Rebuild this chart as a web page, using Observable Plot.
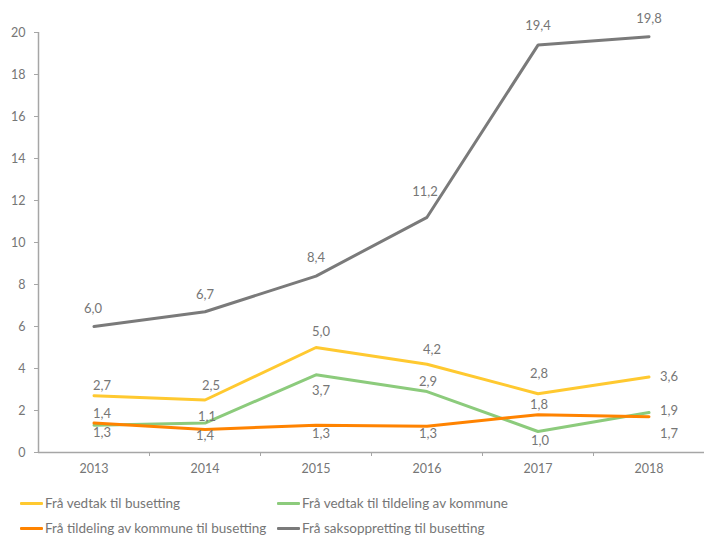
<!DOCTYPE html>
<html>
<head>
<meta charset="utf-8">
<script src="https://cdn.jsdelivr.net/npm/d3@7"></script>
<script src="https://cdn.jsdelivr.net/npm/@observablehq/plot@0.6"></script>
<style>
  html, body { margin: 0; padding: 0; background: white; }
  #wrap { position: relative; width: 704px; height: 536px; font-family: Lato, sans-serif; color: #767676; }
  .leg { position: absolute; display: flex; align-items: center; font-size: 13.5px; white-space: nowrap; }
  .sw { width: 23px; height: 3px; margin-right: 2px; border-radius: 1px; }
</style>
</head>
<body>
<div id="wrap"><div id="chart"></div><div id="legend"></div></div>
<script>
const years = [2013, 2014, 2015, 2016, 2017, 2018];
const seriesNames = [
  "Frå vedtak til busetting",
  "Frå vedtak til tildeling av kommune",
  "Frå tildeling av kommune til busetting",
  "Frå saksoppretting til busetting"
];
const vedtakBusetting = [2.7, 2.5, 5.0, 4.2, 2.8, 3.6];
const vedtakTildeling = [1.3, 1.4, 3.7, 2.9, 1.0, 1.9];
const tildelingBusetting = [1.4, 1.1, 1.3, 1.25, 1.8, 1.7];
const saksoppretting = [6.0, 6.7, 8.4, 11.2, 19.4, 19.8];
const yTicks = [0, 2, 4, 6, 8, 10, 12, 14, 16, 18, 20];

const colors = ["#ffc930", "#8ccb7c", "#ff8300", "#7a7a7a"];
const seriesValues = [vedtakBusetting, vedtakTildeling, tildelingBusetting, saksoppretting];

// label placement offsets (pixels) per series, per year
const labelOffsets = [
  [[8,-10],[6,-14],[5,-16],[5,-14],[1,-20],[20,0]],
  [[8,8],[0,13],[5,16],[1,-10],[2,9],[20,-2]],
  [[8,-9],[2,-13],[5,9],[1,8],[1,-10],[20,17]],
  [[-1,-18],[0,-17],[0,-18],[-2,-25],[0,-19],[0,-18]]
];

const data = seriesNames.flatMap((s, i) =>
  years.map((y, j) => ({series: s, year: y, value: seriesValues[i][j], off: labelOffsets[i][j]}))
);
const fmt = v => v.toFixed(1).replace(".", ",");

const labelMarks = data.map(d =>
  Plot.text([d], {x: "year", y: "value", text: d => fmt(d.value), dx: d.off[0], dy: d.off[1],
    fill: "#767676", fontSize: 13, textAnchor: "middle", lineAnchor: "middle"})
);

const chart = Plot.plot({
  width: 704, height: 485,
  marginLeft: 38, marginRight: 0, marginTop: 32, marginBottom: 33,
  style: {fontFamily: "Lato, sans-serif", fontSize: "12.5px", background: "white", overflow: "visible"},
  x: {domain: [2012.5, 2018.5], axis: null},
  y: {domain: [0, 20], axis: null},
  color: {domain: seriesNames, range: colors},
  marks: [
    Plot.axisY({ticks: yTicks, tickSize: 4, tickFormat: () => "", color: "#a6a6a6", label: null}),
    Plot.axisY({ticks: yTicks, tickSize: 0, tickPadding: 13, tickFormat: d => String(d), color: "#767676", label: null}),
    Plot.axisX({ticks: [2013.5, 2014.5, 2015.5, 2016.5, 2017.5], tickSize: 4, tickFormat: () => "", color: "#a6a6a6", label: null}),
    Plot.axisX({ticks: years, tickSize: 0, tickPadding: 12, tickFormat: d => String(d), color: "#767676", label: null}),
    Plot.ruleY([0], {stroke: "#a6a6a6", strokeWidth: 1.5}),
    Plot.ruleX([2012.5], {stroke: "#a6a6a6", strokeWidth: 1.5}),
    Plot.line(data, {x: "year", y: "value", z: "series", stroke: "series", strokeWidth: 3, strokeLinejoin: "miter"}),
    ...labelMarks
  ]
});
document.getElementById("chart").appendChild(chart);

const legendPos = [[20, 503], [277, 503], [20, 528], [277, 528]];
const legend = document.getElementById("legend");
seriesNames.forEach((s, i) => {
  const el = document.createElement("div");
  el.className = "leg";
  el.style.left = legendPos[i][0] + "px";
  el.style.top = (legendPos[i][1] - 9) + "px";
  el.style.height = "18px";
  el.innerHTML = `<div class="sw" style="background:${colors[i]}"></div><span>${s}</span>`;
  legend.appendChild(el);
});
</script>
</body>
</html>
